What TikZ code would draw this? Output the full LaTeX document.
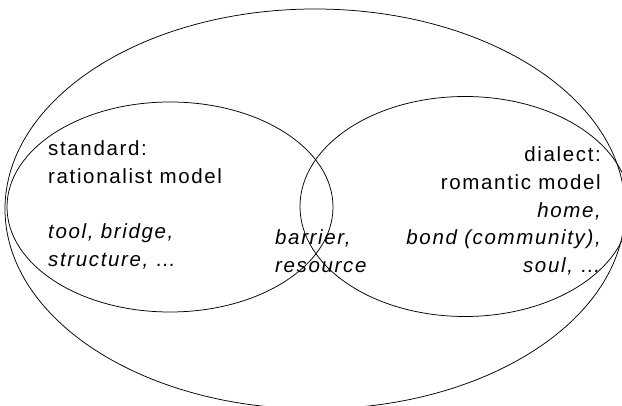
\documentclass[tikz,border=0pt]{standalone}
\usepackage{fontspec}
\setmainfont{Liberation Sans}[LetterSpace=8]
\begin{document}
\begin{tikzpicture}[x=1pt,y=-1pt,
  ring/.style={draw=black,line width=0.75pt},
  lbl/.style={inner sep=0pt,font=\fontsize{20.5}{27.7}\selectfont},
  lblw/.style={lbl,anchor=base west},
  lble/.style={lbl,anchor=base east}]
\useasboundingbox (0,0) rectangle (622,406);
\clip (0,0) rectangle (622,406);
% ellipses
\draw[ring] (315,209) ellipse [x radius=310pt, y radius=200pt];
\draw[ring] (170,207) ellipse [x radius=163pt, y radius=105pt];
\draw[ring] (465,206.5) ellipse [x radius=165pt, y radius=110pt];
% left block
\node[lblw] (s1) at (48,156) {standard:};
\node[lblw] (s2) at (48,184) {rationalist model};
\node[lblw] (s3) at (48,239) {\itshape tool, bridge,};
\node[lblw] (s4) at (48,267) {\itshape structure, \dots};
% middle block
\node[lblw] (m1) at (275,245) {\itshape barrier,};
\node[lblw] (m2) at (275,272.7) {\itshape resource};
% right block
\node[lble] (d1) at (601,161.7) {dialect:};
\node[lble] (d2) at (601,189.3) {romantic model};
\node[lble] (d3) at (601,217.3) {\itshape home,};
\node[lble] (d4) at (601,245) {\itshape bond (community),};
\node[lble] (d5) at (601,272.7) {\itshape soul, \dots};
\end{tikzpicture}
\end{document}
